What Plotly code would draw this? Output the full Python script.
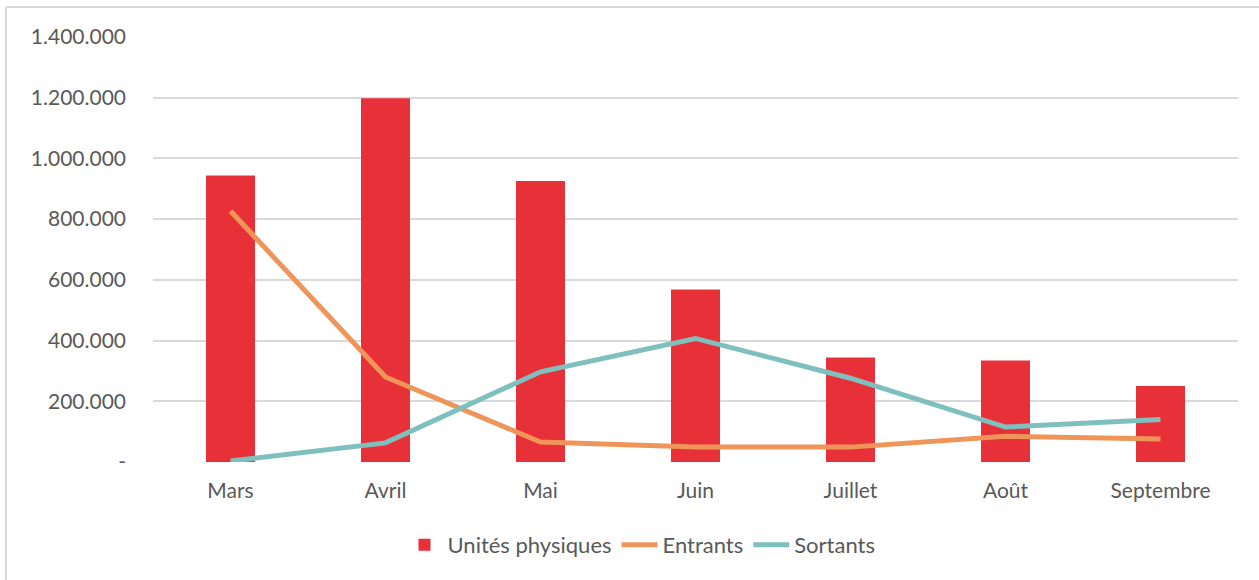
import plotly.graph_objects as go

mois = ["Mars", "Avril", "Mai", "Juin", "Juillet", "Août", "Septembre"]
unites_physiques = [944000, 1198000, 926000, 568000, 344000, 334000, 250000]
entrants = [827000, 280000, 66000, 49000, 49000, 85000, 76000]
sortants = [3000, 63000, 297000, 407000, 276000, 115000, 140000]

tick_vals = [0, 200000, 400000, 600000, 800000, 1000000, 1200000, 1400000]
tick_text = ["-", "200.000", "400.000", "600.000", "800.000", "1.000.000", "1.200.000", "1.400.000"]

FONT = "Lato"
GRAY = "#595959"

fig = go.Figure()
fig.add_trace(go.Bar(x=mois, y=unites_physiques, name="Unités physiques",
                     marker=dict(color="#E83038", line=dict(width=0)), width=0.316))
fig.add_trace(go.Scatter(x=mois, y=entrants, name="Entrants", mode="lines",
                         line=dict(color="#F0955A", width=5)))
fig.add_trace(go.Scatter(x=mois, y=sortants, name="Sortants", mode="lines",
                         line=dict(color="#7FC0BE", width=5)))

W, H = 1259, 580
ml, mr, mt, mb = 153, 21, 37, 118
pw, ph = W - ml - mr, H - mt - mb

def px_x(p):
    return (p - ml) / pw

def px_y(p):
    return (H - mb - p) / ph

fig.update_layout(
    width=W, height=H,
    margin=dict(l=ml, r=mr, t=mt, b=mb),
    paper_bgcolor="white", plot_bgcolor="white",
    font=dict(family=FONT, size=21, color=GRAY),
    showlegend=True,
    legend=dict(orientation="h", x=px_x(641), xanchor="center", y=px_y(545), yanchor="middle",
                font=dict(family=FONT, size=22, color=GRAY), itemwidth=36,
                traceorder="normal"),
    bargap=0.684,
    xaxis=dict(showgrid=False, showline=False, ticks="", tickfont=dict(size=21, color=GRAY),
               ticklabelstandoff=14, fixedrange=True),
    yaxis=dict(range=[0, 1400000], tickvals=tick_vals, ticktext=tick_text,
               showgrid=True, gridcolor="#D9D9D9", gridwidth=1.5, zeroline=False,
               showline=False, ticks="", ticklabelstandoff=26,
               tickfont=dict(size=21, color=GRAY), fixedrange=True),
    shapes=[
        dict(type="line", xref="paper", yref="paper", x0=px_x(6), x1=px_x(1259),
             y0=px_y(7), y1=px_y(7), line=dict(color="#D9D9D9", width=2)),
        dict(type="line", xref="paper", yref="paper", x0=px_x(6), x1=px_x(6),
             y0=px_y(7), y1=px_y(580), line=dict(color="#D9D9D9", width=2)),
    ],
)

fig.write_html("out.html", config={"displayModeBar": False},
               post_script="document.body.style.margin='0';")
